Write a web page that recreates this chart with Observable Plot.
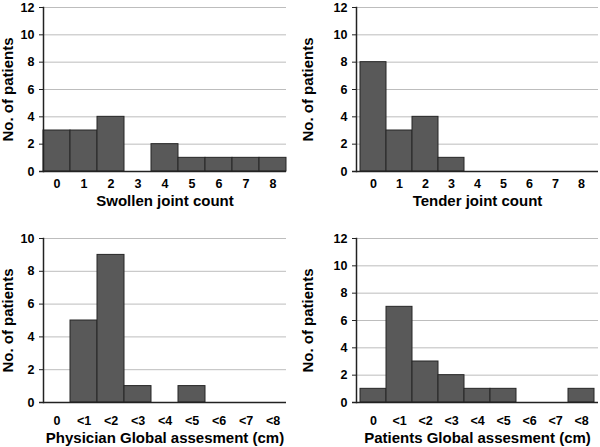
<!DOCTYPE html>
<html>
<head>
<meta charset="utf-8">
<script src="https://cdn.jsdelivr.net/npm/d3@7"></script>
<script src="https://cdn.jsdelivr.net/npm/@observablehq/plot@0.6"></script>
<style>
  html, body { margin: 0; padding: 0; background: #fff; }
  #wrap { position: relative; width: 600px; height: 447px; overflow: hidden; background: #fff; }
  #wrap > div { position: absolute; }
  svg { display: block; }
  svg text { font-weight: bold; }
</style>
</head>
<body>
<div id="wrap">
  <div id="p1" style="left:0px;top:0px"></div>
  <div id="p2" style="left:300px;top:0px"></div>
  <div id="p3" style="left:0px;top:220px"></div>
  <div id="p4" style="left:300px;top:220px"></div>
</div>
<script>
const countCats = ["0", "1", "2", "3", "4", "5", "6", "7", "8"];
const globalCats = ["0", "<1", "<2", "<3", "<4", "<5", "<6", "<7", "<8"];
const swollenCounts = [3, 3, 4, 0, 2, 1, 1, 1, 1];
const tenderCounts = [8, 3, 4, 1, 0, 0, 0, 0, 0];
const physicianCounts = [0, 5, 9, 1, 0, 1, 0, 0, 0];
const patientsCounts = [1, 7, 3, 2, 1, 1, 0, 0, 1];
const yTicks12 = [0, 2, 4, 6, 8, 10, 12];
const yTicks10 = [0, 2, 4, 6, 8, 10];
const yTitle = "No. of patients";
const xTitles = ["Swollen joint count", "Tender joint count", "Physician Global assesment (cm)", "Patients Global assesment (cm)"];

const FONT = "'Liberation Sans', Arial, Helvetica, sans-serif";

function panel(cfg) {
  const data = cfg.cats.map((c, i) => ({cat: c, n: cfg.values[i]}));
  return Plot.plot({
    width: 300,
    height: cfg.height,
    marginLeft: cfg.ml,
    marginRight: cfg.mr,
    marginTop: cfg.mt,
    marginBottom: cfg.mb,
    style: {fontFamily: FONT, fontWeight: "bold", fontSize: "12px", color: "#000", background: "#fff", overflow: "visible"},
    x: {type: "band", domain: cfg.cats, padding: 0},
    y: {domain: [0, cfg.ymax]},
    marks: [
      Plot.gridY(cfg.ticks, {stroke: "#bdbdbd", strokeOpacity: 1, strokeWidth: 1}),
      Plot.barY(data, {x: "cat", y: "n", fill: "#595959", stroke: "#262626", strokeWidth: 1}),
      Plot.axisY(cfg.ticks, {tickSize: 4, tickPadding: 5, label: null, fontSize: 12.5, fontWeight: "bold", stroke: "#222", fill: "#000"}),
      Plot.axisX({tickSize: 0, tickPadding: cfg.xpad, label: null, fontSize: 12.5, fontWeight: "bold", fill: "#000"}),
      Plot.frame({anchor: "left", stroke: "#222", strokeWidth: 1.5}),
      Plot.ruleY([0], {stroke: "#222", strokeWidth: 1.5, insetLeft: -4}),
      Plot.text([cfg.xtitle], {frameAnchor: "bottom", dy: cfg.tdy, text: d => d, fontSize: 15, fontWeight: "bold", lineAnchor: "middle", textAnchor: "middle", fill: "#000"}),
      Plot.text([yTitle], {frameAnchor: "left", dx: -(cfg.ml - 8), rotate: -90, text: d => d, fontSize: 15, fontWeight: "bold", lineAnchor: "middle", textAnchor: "middle", fill: "#000"})
    ]
  });
}

const configs = [
  {id: "p1", cats: countCats, values: swollenCounts, xtitle: xTitles[0], ymax: 12, ticks: yTicks12, height: 220, ml: 43, mr: 14, mt: 7, mb: 49, xpad: 8, tdy: 30},
  {id: "p2", cats: countCats, values: tenderCounts, xtitle: xTitles[1], ymax: 12, ticks: yTicks12, height: 220, ml: 56, mr: 2, mt: 7, mb: 49, xpad: 8, tdy: 30},
  {id: "p3", cats: globalCats, values: physicianCounts, xtitle: xTitles[2], ymax: 10, ticks: yTicks10, height: 227, ml: 43, mr: 14, mt: 18, mb: 45, xpad: 14, tdy: 36},
  {id: "p4", cats: globalCats, values: patientsCounts, xtitle: xTitles[3], ymax: 12, ticks: yTicks12, height: 227, ml: 56, mr: 2, mt: 18, mb: 45, xpad: 14, tdy: 36}
];

for (const cfg of configs) {
  document.getElementById(cfg.id).appendChild(panel(cfg));
}
</script>
</body>
</html>
